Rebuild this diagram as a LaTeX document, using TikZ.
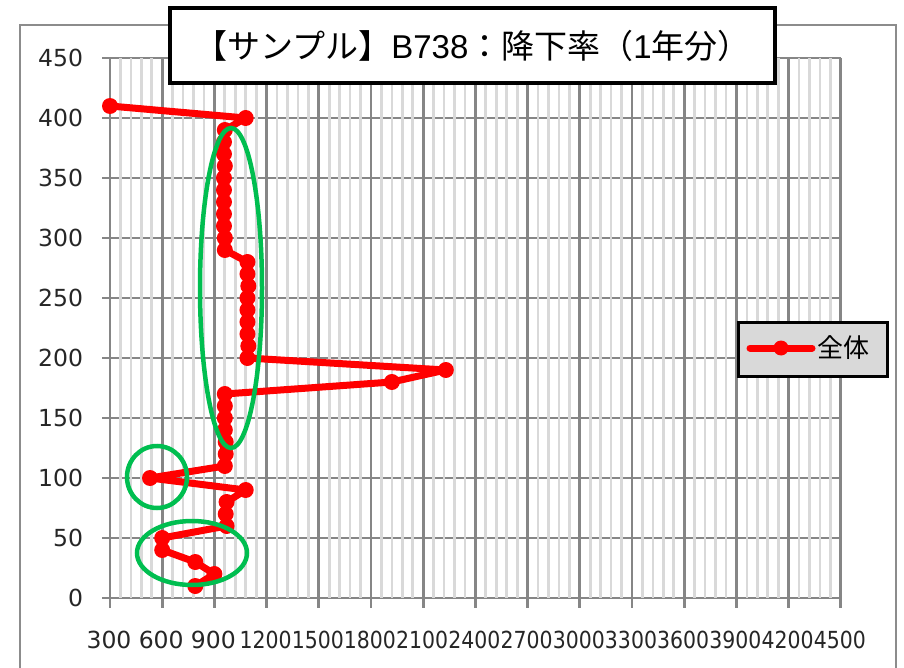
\documentclass[tikz,border=0pt]{standalone}
\usepackage{fontspec}
\setmainfont{Liberation Sans}
\newfontfamily\cjk{Noto Sans CJK JP}
\newfontfamily\axfont{DejaVu Sans}
\usetikzlibrary{shapes.geometric}
\definecolor{majorgray}{HTML}{868686}
\definecolor{minorgray}{HTML}{D9D9D9}
\definecolor{ringgreen}{HTML}{00BE50}
\definecolor{legfill}{HTML}{D9D9D9}
\definecolor{framegray}{HTML}{8C8C8C}
\definecolor{labelc}{HTML}{262626}
\begin{document}
\begin{tikzpicture}[x=1pt,y=-1pt,
  majorline/.style={majorgray, line width=2.7pt},
  minorline/.style={minorgray, line width=2.7pt},
  axlab/.style={font=\axfont\fontsize{23.5}{24}\selectfont, text=labelc, inner sep=0pt, outer sep=0pt},
  series/.style={red, line width=7pt, line join=round, line cap=round},
  marker/.style={circle, fill=red, inner sep=0pt, minimum size=16pt},
  ring/.style={ellipse, draw=ringgreen, line width=4.5pt, inner sep=0pt},
]
\useasboundingbox (0,0) rectangle (904,668);
\fill[white] (0,0) rectangle (904,668);
% outer chart frame
\draw[framegray, line width=2pt] (20,668) -- (20,25) -- (896,25) -- (896,668);
% horizontal gridlines (with ticks)
\foreach \i in {0,...,9} \draw[majorline] (102,{598-60*\i}) -- (841,{598-60*\i});
% minor vertical gridlines
\foreach \k in {1,...,69} \draw[minorline] ({110+\k*10.44},58) -- ({110+\k*10.44},598);
% major vertical gridlines (with ticks)
\foreach \i in {0,...,14} \draw[majorline] ({110+\i*52.2},58) -- ({110+\i*52.2},608);
% y labels
\foreach \i in {0,...,9} {%
  \pgfmathtruncatemacro\v{50*\i}%
  \node[axlab, anchor=east] (yl\i) at (83,{598-60*\i}) {\v};%
}
% x labels
\foreach \i in {0,...,14} {%
  \pgfmathtruncatemacro\v{300+300*\i}%
  \node[axlab] (xl\i) at ({109+\i*52.2},640) {\ifnum\v>999 \scalebox{0.87}[1]{\v}\else\v\fi};%
}
% data
\begin{scope}[shift={(57.8pt,-598pt)}, x=0.174pt, y=1.2pt]
\foreach \vx/\vy [count=\n] in {300/410,1080/400,960/390,955/380,955/370,960/360,955/350,955/340,955/330,955/320,955/310,960/300,960/290,
  1090/280,1090/270,1095/260,1090/250,1090/240,1090/230,1090/220,1095/210,1090/200,
  2230/190,1920/180,960/170,960/160,960/150,960/140,965/130,965/120,960/110,
  530/100,1080/90,970/80,965/70,970/60,600/50,600/40,790/30,900/20,790/10}
  \coordinate (p\n) at (\vx,\vy);
\end{scope}
\draw[series] (p1) \foreach \n in {2,...,41} {-- (p\n)};
\foreach \n in {1,...,41} \node[marker] (m\n) at (p\n) {};
% green rings
\node[ring, minimum width=62pt, minimum height=320pt] (ringA) at (231,288) {};
\node[ring, minimum width=60pt, minimum height=62pt] (ringB) at (157,477) {};
\node[ring, minimum width=110pt, minimum height=64pt] (ringC) at (192,553) {};
% title
\node[draw=black, fill=white, line width=4pt, minimum width=605pt, minimum height=75pt, inner sep=0pt,
  font=\fontsize{33}{34}\selectfont] (title) at (472.5,45.5)
  {{\cjk 【サンプル】}B738{\cjk ：降下率（}1{\cjk 年分）}};
% legend
\node[draw=black, fill=legfill, line width=3pt, minimum width=149pt, minimum height=54pt, inner sep=0pt] (legend) at (812.5,349) {};
\coordinate (la) at (750,348);
\coordinate (lb) at (812,348);
\draw[series] (la) -- (lb);
\node[marker, minimum size=15pt] (lm) at (781,348) {};
\node[font=\cjk\fontsize{26}{26}\selectfont, anchor=west, inner sep=0pt] (legtext) at (817,348) {全体};
\end{tikzpicture}
\end{document}
